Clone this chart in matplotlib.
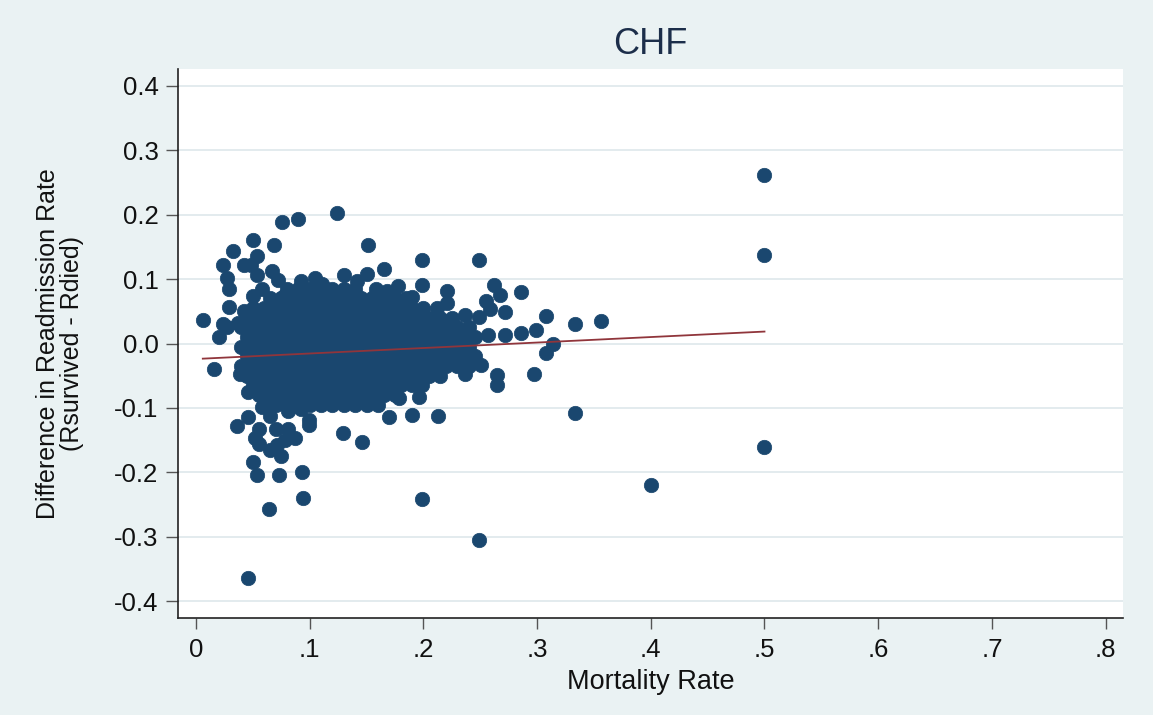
import matplotlib
matplotlib.use("Agg")
import matplotlib.pyplot as plt
import numpy as np

# ── Data ─────────────────────────────────────────────────────────────────────
# scattered hospitals (outside the dense core)
out_x = [0.124, 0.090, 0.076, 0.050, 0.069, 0.033, 0.054, 0.024, 0.042, 0.048,
         0.067, 0.027, 0.054, 0.130, 0.151, 0.029, 0.029, 0.006, 0.024, 0.042,
         0.050, 0.058, 0.072, 0.092, 0.105, 0.111, 0.142, 0.150, 0.077, 0.037,
         0.199, 0.249, 0.165, 0.178, 0.199, 0.221, 0.262, 0.267, 0.286, 0.221,
         0.255, 0.259, 0.272, 0.237, 0.249, 0.308, 0.257, 0.272, 0.286, 0.299,
         0.333, 0.356, 0.314, 0.308, 0.251, 0.265, 0.265, 0.297, 0.237, 0.199,
         0.188, 0.020, 0.027, 0.016, 0.039, 0.046, 0.046, 0.036, 0.065, 0.055,
         0.070, 0.081, 0.099, 0.099, 0.129, 0.146, 0.052, 0.055, 0.065, 0.071,
         0.078, 0.087, 0.075, 0.050, 0.054, 0.073, 0.093, 0.094, 0.064, 0.199,
         0.249, 0.046, 0.170, 0.190, 0.213, 0.179, 0.196, 0.333, 0.400, 0.500,
         0.500, 0.500, 0.058, 0.081, 0.092, 0.158, 0.168, 0.190, 0.212]
out_y = [0.203, 0.193, 0.189, 0.161, 0.153, 0.143, 0.136, 0.121, 0.121, 0.121,
         0.112, 0.102, 0.106, 0.106, 0.152, 0.085, 0.057, 0.036, 0.031, 0.050,
         0.073, 0.085, 0.099, 0.097, 0.102, 0.093, 0.097, 0.107, 0.073, 0.032,
         0.129, 0.129, 0.115, 0.089, 0.090, 0.082, 0.091, 0.075, 0.080, 0.063,
         0.066, 0.053, 0.049, 0.044, 0.041, 0.043, 0.013, 0.013, 0.017, 0.021,
         0.031, 0.035, 0.000, -0.014, -0.033, -0.049, -0.064, -0.047, -0.048, -0.065,
         -0.060, 0.010, 0.025, -0.039, -0.047, -0.075, -0.114, -0.128, -0.113, -0.133,
         -0.132, -0.132, -0.119, -0.127, -0.139, -0.153, -0.147, -0.156, -0.165, -0.157,
         -0.150, -0.147, -0.175, -0.183, -0.204, -0.204, -0.199, -0.239, -0.256, -0.241,
         -0.304, -0.364, -0.114, -0.111, -0.113, -0.085, -0.083, -0.107, -0.219, 0.261,
         0.137, -0.161, -0.098, -0.104, -0.101, 0.085, 0.082, 0.072, 0.055]

# dense core: rows of overlapping markers (row y, first and last x in the row)
core_cols_a = [0.040, 0.050, 0.060, 0.070, 0.080, 0.090, 0.100, 0.110, 0.120, 0.130,
               0.140, 0.150, 0.160, 0.170, 0.180, 0.190, 0.200, 0.210, 0.220, 0.230, 0.240]
core_cols_b = [0.045, 0.055, 0.065, 0.075, 0.085, 0.095, 0.105, 0.115, 0.125, 0.135,
               0.145, 0.155, 0.165, 0.175, 0.185, 0.195, 0.205, 0.215, 0.225, 0.235, 0.245]
core_row_y = [0.085, 0.070, 0.055, 0.040, 0.025, 0.010, -0.005, -0.020, -0.035,
              -0.050, -0.065, -0.080, -0.095]
core_row_cols = ["a", "b", "a", "b", "a", "b", "a", "b", "a", "b", "a", "b", "a"]
core_row_x0 = [0.080, 0.065, 0.050, 0.045, 0.040, 0.045, 0.040, 0.045, 0.040,
               0.045, 0.050, 0.055, 0.060]
core_row_x1 = [0.140, 0.185, 0.200, 0.225, 0.240, 0.245, 0.240, 0.245, 0.240,
               0.215, 0.190, 0.175, 0.160]

# linear fit
fit_x = [0.006, 0.500]
fit_y = [-0.0235, 0.0185]

x_ticks = [0, 0.1, 0.2, 0.3, 0.4, 0.5, 0.6, 0.7, 0.8]
x_labels = ["0", ".1", ".2", ".3", ".4", ".5", ".6", ".7", ".8"]
y_ticks = [-0.4, -0.3, -0.2, -0.1, 0.0, 0.1, 0.2, 0.3, 0.4]
y_labels = ["-0.4", "-0.3", "-0.2", "-0.1", "0.0", "0.1", "0.2", "0.3", "0.4"]

# ── Style ────────────────────────────────────────────────────────────────────
BG = "#EAF2F3"
NAVY = "#1A476F"
MAROON = "#90353B"
GRID = "#E0E9ED"
plt.rcParams["font.family"] = ["Liberation Sans", "DejaVu Sans"]

core_x, core_y = [], []
for y, which, x0, x1 in zip(core_row_y, core_row_cols, core_row_x0, core_row_x1):
    cols = core_cols_a if which == "a" else core_cols_b
    for x in cols:
        if x0 - 1e-9 <= x <= x1 + 1e-9:
            core_x.append(x)
            core_y.append(y)

pts_x = np.array(out_x + core_x)
pts_y = np.array(out_y + core_y)

fig = plt.figure(figsize=(11.53, 7.15), dpi=100)
fig.patch.set_facecolor(BG)
ax = fig.add_axes([178 / 1153, 97 / 715, 945 / 1153, 549 / 715])
ax.set_facecolor("white")

ax.set_xlim(-0.0158, 0.8153)
ax.set_ylim(-0.4256, 0.4256)

for t in y_ticks:
    ax.axhline(t, color=GRID, lw=1.3, zorder=0)

ax.scatter(pts_x, pts_y, s=108, color=NAVY, edgecolors=NAVY, linewidths=0.5, zorder=2)
ax.plot(fit_x, fit_y, color=MAROON, lw=1.3, zorder=3)

ax.set_xticks(x_ticks)
ax.set_xticklabels(x_labels)
ax.set_yticks(y_ticks)
ax.set_yticklabels(y_labels)
ax.tick_params(axis="y", length=8.6, width=1, color="#555555", pad=5.5,
               labelsize=18.5, labelcolor="#111111")
ax.tick_params(axis="x", length=7.7, width=1, color="#555555", pad=7,
               labelsize=18.5, labelcolor="#111111")

for side in ("top", "right"):
    ax.spines[side].set_visible(False)
for side in ("left", "bottom"):
    ax.spines[side].set_color("#222222")
    ax.spines[side].set_linewidth(1.2)

ax.set_xlabel("Mortality Rate", fontsize=19.5, color="#111111")
ax.xaxis.set_label_coords(0.5, -0.1166)
ax.xaxis.label.set_va("center")

ax.set_ylabel("Difference in Readmission Rate\n(Rsurvived - Rdied)", fontsize=18,
              color="#111111", linespacing=1.0)
ax.yaxis.set_label_coords(-0.125, 0.5)
ax.yaxis.label.set_va("center")
ax.yaxis.label.set_ha("center")

fig.text(650.5 / 1153, 1 - 44.8 / 715, "CHF", ha="center", va="center",
         fontsize=26, color="#1c2e4a")

fig.savefig("out.png", dpi=100, facecolor=fig.get_facecolor())
